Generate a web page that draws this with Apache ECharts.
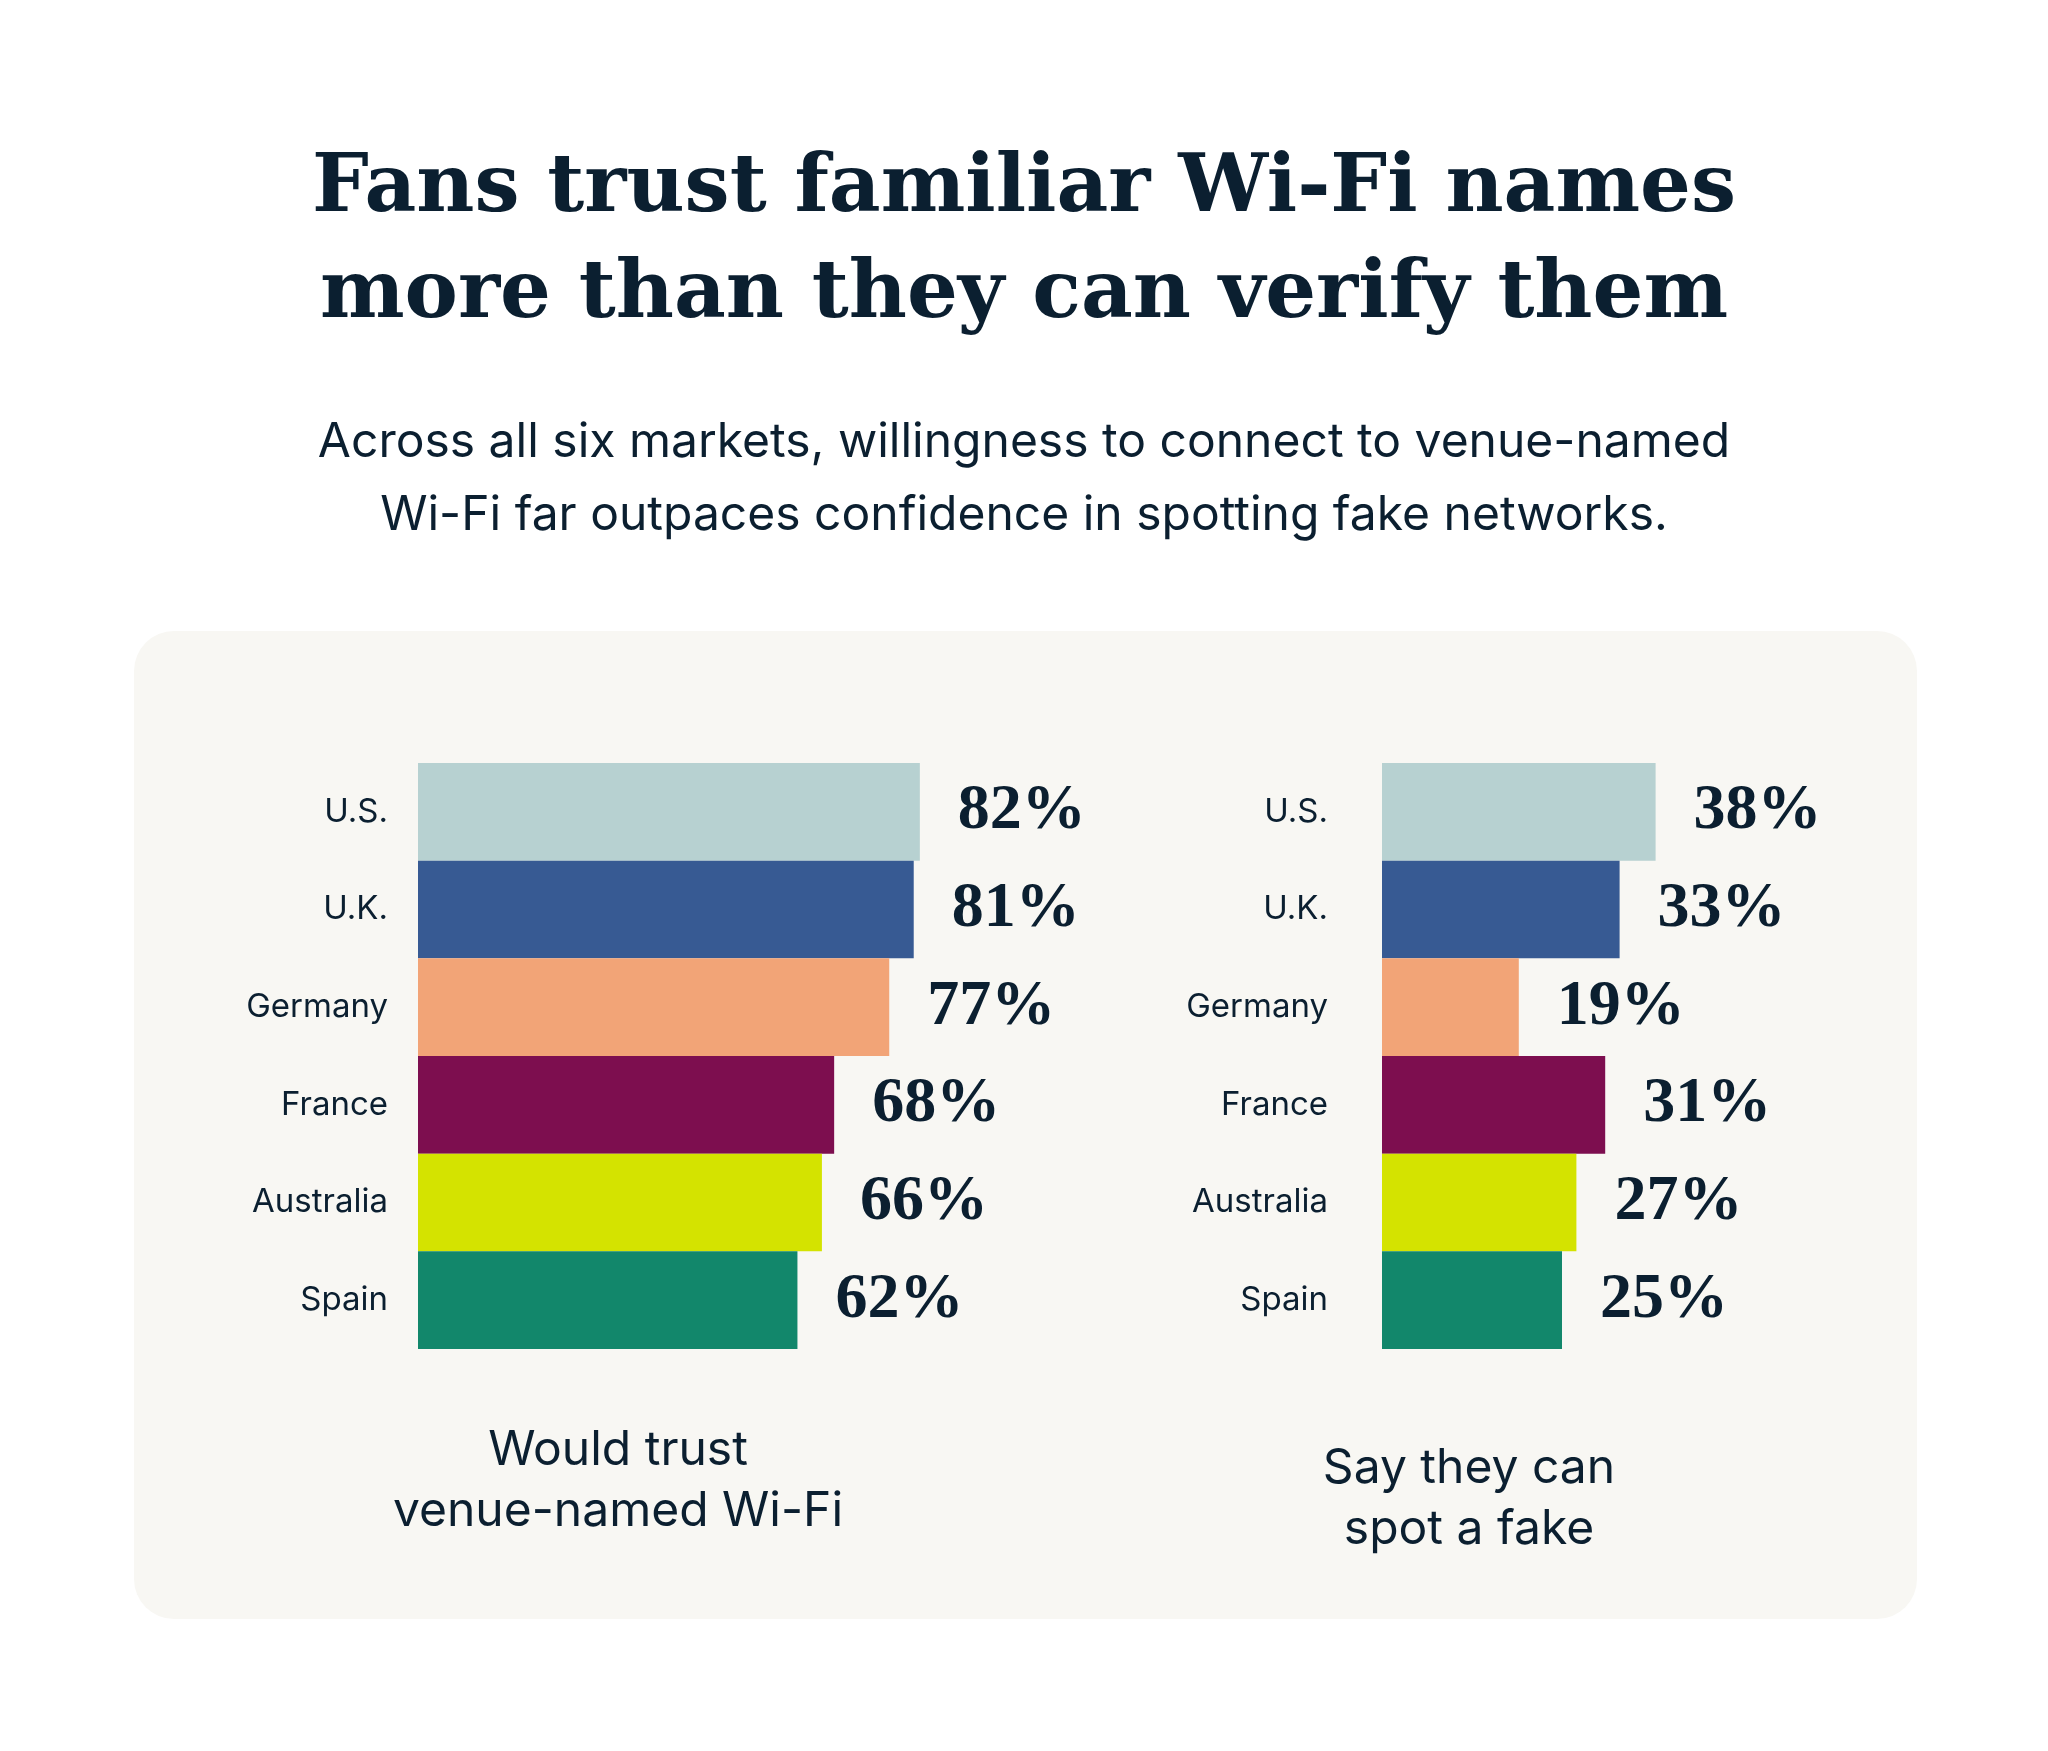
<!DOCTYPE html>
<html>
<head>
<meta charset="utf-8">
<script src="https://cdn.jsdelivr.net/npm/echarts@6/dist/echarts.min.js"></script>
<style>
html,body{margin:0;padding:0;background:#ffffff;}
#chart{width:2048px;height:1751px;}
</style>
</head>
<body>
<div id="chart"></div>
<script>
const categories = ['U.S.', 'U.K.', 'Germany', 'France', 'Australia', 'Spain'];
const trustValues = [82, 81, 77, 68, 66, 62];
const spotValues = [38, 33, 19, 31, 27, 25];
const barColors = ['#b7d1d1', '#375a93', '#f2a477', '#7d0e4f', '#d4e300', '#12876b'];
const titleLines = ['Fans trust familiar Wi-Fi names', 'more than they can verify them'];
const subtitleLines = ['Across all six markets, willingness to connect to venue-named', 'Wi-Fi far outpaces confidence in spotting fake networks.'];
const leftCaption = ['Would trust', 'venue-named Wi-Fi'];
const rightCaption = ['Say they can', 'spot a fake'];

const ink = '#0b1f30';
const sans = 'Inter';
const serif = 'Liberation Serif';
const titleFont = 'DejaVu Serif';

const chart = echarts.init(document.getElementById('chart'), null, {renderer: 'canvas'});

function seriesData(vals) {
  return vals.map((v, i) => ({value: v, itemStyle: {color: barColors[i]}}));
}
function textEl(text, x, y, size, family, weight) {
  return {
    type: 'text', x: x, y: y, z: 10,
    style: {text: text, x: 0, y: 0, align: 'center', verticalAlign: 'middle',
      fill: ink, fontSize: size, fontFamily: family, fontWeight: weight}
  };
}

const graphics = [
  {type: 'rect', z: -10, shape: {x: 134, y: 631, width: 1783, height: 988, r: 40}, style: {fill: '#f8f7f3'}},
  textEl(titleLines[0], 1024, 190, 80, titleFont, 'bold'),
  textEl(titleLines[1], 1024, 296, 80, titleFont, 'bold'),
  textEl(subtitleLines[0], 1024, 443, 48, sans, 'normal'),
  textEl(subtitleLines[1], 1024, 516, 48, sans, 'normal'),
  textEl(leftCaption[0], 618, 1451, 48, sans, 'normal'),
  textEl(leftCaption[1], 618, 1512, 48, sans, 'normal'),
  textEl(rightCaption[0], 1469, 1469, 48, sans, 'normal'),
  textEl(rightCaption[1], 1469, 1530, 48, sans, 'normal')
];

const valueLabel = {
  show: true, position: 'right', distance: 38,
  formatter: p => p.value + '%',
  color: ink, fontFamily: serif, fontWeight: 'bold', fontSize: 64
};

const catLabel = (margin) => ({
  margin: margin, color: ink, fontFamily: sans, fontSize: 33,
  padding: [4, 0, 0, 0]
});

chart.setOption({
  backgroundColor: '#ffffff',
  animation: false,
  grid: [
    {left: 418, top: 763, width: 612, height: 586},
    {left: 1382, top: 763, width: 360, height: 586}
  ],
  xAxis: [
    {gridIndex: 0, type: 'value', min: 0, max: 100, show: false},
    {gridIndex: 1, type: 'value', min: 0, max: 50, show: false}
  ],
  yAxis: [
    {gridIndex: 0, type: 'category', data: categories, inverse: true,
      axisLine: {show: false}, axisTick: {show: false}, splitLine: {show: false},
      axisLabel: catLabel(30)},
    {gridIndex: 1, type: 'category', data: categories, inverse: true,
      axisLine: {show: false}, axisTick: {show: false}, splitLine: {show: false},
      axisLabel: catLabel(54)}
  ],
  series: [
    {type: 'bar', xAxisIndex: 0, yAxisIndex: 0, data: seriesData(trustValues),
      barWidth: '100%', label: valueLabel},
    {type: 'bar', xAxisIndex: 1, yAxisIndex: 1, data: seriesData(spotValues),
      barWidth: '100%', label: valueLabel}
  ],
  graphic: graphics
});
</script>
</body>
</html>
